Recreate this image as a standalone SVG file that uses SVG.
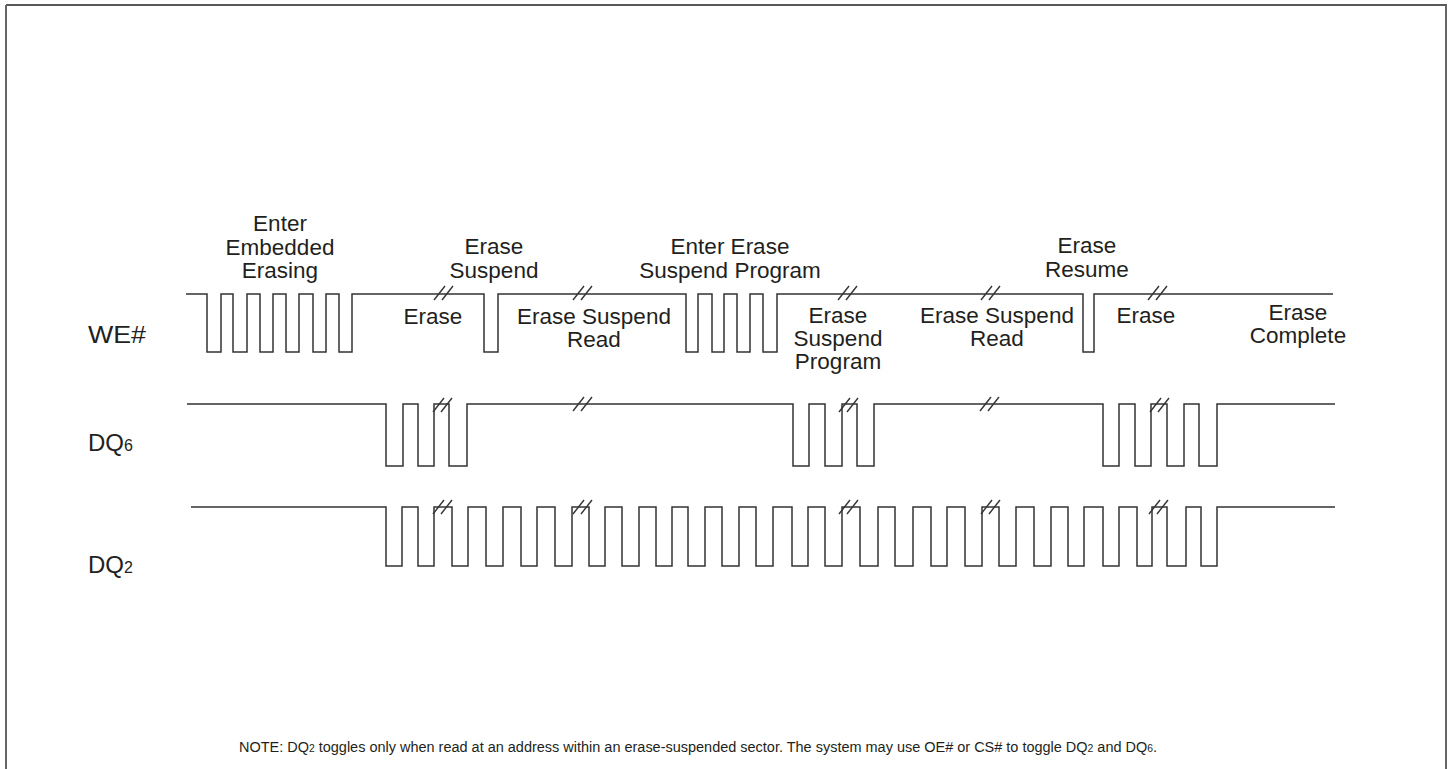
<svg xmlns="http://www.w3.org/2000/svg" xmlns:xlink="http://www.w3.org/1999/xlink" width="1452" height="769" viewBox="0 0 1452 769">
<style>
.wave{fill:none;stroke:#333;stroke-width:1.5;stroke-linejoin:miter}
.sl{stroke:#333;stroke-width:1.4}
.lbl{font-family:"Liberation Sans",Arial,sans-serif;font-size:22.5px;fill:#231f20;text-anchor:middle}
.sig{font-family:"Liberation Sans",Arial,sans-serif;font-size:24px;fill:#231f20}
.sub{font-size:16px}
.note{font-family:"Liberation Sans",Arial,sans-serif;font-size:14px;fill:#231f20}
.nsub{font-size:10px}
</style>
<defs>
<g id="brk"><line class="sl" x1="-10" y1="7" x2="1" y2="-7"/><line class="sl" x1="-2" y1="7" x2="9" y2="-7"/></g>
</defs>
<rect width="1452" height="769" fill="#fff"/>
<g id="frame">
<line x1="6" y1="5" x2="1447" y2="5" stroke="#231f20" stroke-width="1.5"/>
<line x1="6" y1="5" x2="6" y2="769" stroke="#666" stroke-width="2"/>
<line x1="1446" y1="5" x2="1446" y2="769" stroke="#666" stroke-width="2"/>
</g>
<g id="we">
<text class="sig" x="88" y="343" textLength="58" lengthAdjust="spacingAndGlyphs">WE#</text>
<path class="wave" d="M186,294 H207 V352 H221 V294 H233 V352 H247 V294 H260 V352 H273 V294 H286 V352 H299 V294 H313 V352 H326 V294 H339 V352 H352 V294 H484 V352 H498 V294 H686 V352 H698 V294 H712 V352 H724 V294 H737 V352 H750 V294 H763 V352 H777 V294 H1083 V352 H1094 V294 H1333"/>
<use xlink:href="#brk" x="444" y="293"/>
<use xlink:href="#brk" x="583" y="293"/>
<use xlink:href="#brk" x="848" y="293"/>
<use xlink:href="#brk" x="991" y="293"/>
<use xlink:href="#brk" x="1158" y="293"/>
</g>
<g id="dq6">
<text class="sig" x="88" y="451">DQ<tspan class="sub">6</tspan></text>
<path class="wave" d="M187,404 H386 V466 H403 V404 H418 V466 H434 V404 H449 V466 H467 V404 H793 V466 H809 V404 H825 V466 H842 V404 H857 V466 H874 V404 H1103 V466 H1119 V404 H1135 V466 H1151 V404 H1167 V466 H1184 V404 H1199 V466 H1217 V404 H1335"/>
<use xlink:href="#brk" x="443" y="405"/>
<use xlink:href="#brk" x="583" y="404"/>
<use xlink:href="#brk" x="849" y="405"/>
<use xlink:href="#brk" x="990" y="404"/>
<use xlink:href="#brk" x="1160" y="405"/>
</g>
<g id="dq2">
<text class="sig" x="88" y="573">DQ<tspan class="sub">2</tspan></text>
<path class="wave" d="M191,507 H386 V566 H402 V507 H418 V566 H434 V507 H452 V566 H468 V507 H486 V566 H503 V507 H521 V566 H537 V507 H555 V566 H572 V507 H589 V566 H605 V507 H622 V566 H639 V507 H656 V566 H672 V507 H688 V566 H705 V507 H722 V566 H739 V507 H756 V566 H773 V507 H792 V566 H808 V507 H825 V566 H842 V507 H860 V566 H878 V507 H895 V566 H913 V507 H931 V566 H947 V507 H965 V566 H982 V507 H999 V566 H1016 V507 H1034 V566 H1051 V507 H1068 V566 H1084 V507 H1103 V566 H1119 V507 H1137 V566 H1152 V507 H1167 V566 H1186 V507 H1201 V566 H1217 V507 H1335"/>
<use xlink:href="#brk" x="443" y="507"/>
<use xlink:href="#brk" x="583" y="507"/>
<use xlink:href="#brk" x="849" y="507"/>
<use xlink:href="#brk" x="991" y="507"/>
<use xlink:href="#brk" x="1159" y="507"/>
</g>
<g id="labels">
<text class="lbl" x="280" y="231">Enter</text>
<text class="lbl" x="280" y="255">Embedded</text>
<text class="lbl" x="280" y="278">Erasing</text>
<text class="lbl" x="494" y="254">Erase</text>
<text class="lbl" x="494" y="278">Suspend</text>
<text class="lbl" x="730" y="254">Enter Erase</text>
<text class="lbl" x="730" y="278">Suspend Program</text>
<text class="lbl" x="1087" y="253">Erase</text>
<text class="lbl" x="1087" y="277">Resume</text>
<text class="lbl" x="433" y="324">Erase</text>
<text class="lbl" x="594" y="324">Erase Suspend</text>
<text class="lbl" x="594" y="347">Read</text>
<text class="lbl" x="838" y="323">Erase</text>
<text class="lbl" x="838" y="346">Suspend</text>
<text class="lbl" x="838" y="369">Program</text>
<text class="lbl" x="997" y="323">Erase Suspend</text>
<text class="lbl" x="997" y="346">Read</text>
<text class="lbl" x="1146" y="323">Erase</text>
<text class="lbl" x="1298" y="320">Erase</text>
<text class="lbl" x="1298" y="343">Complete</text>
</g>
<g id="note">
<text class="note" x="239" y="752" textLength="918" lengthAdjust="spacingAndGlyphs">NOTE:  DQ<tspan class="nsub">2</tspan> toggles only when read at an address within an erase-suspended sector. The system may use OE# or CS# to toggle DQ<tspan class="nsub">2</tspan> and DQ<tspan class="nsub">6</tspan>.</text>
</g>
</svg>
